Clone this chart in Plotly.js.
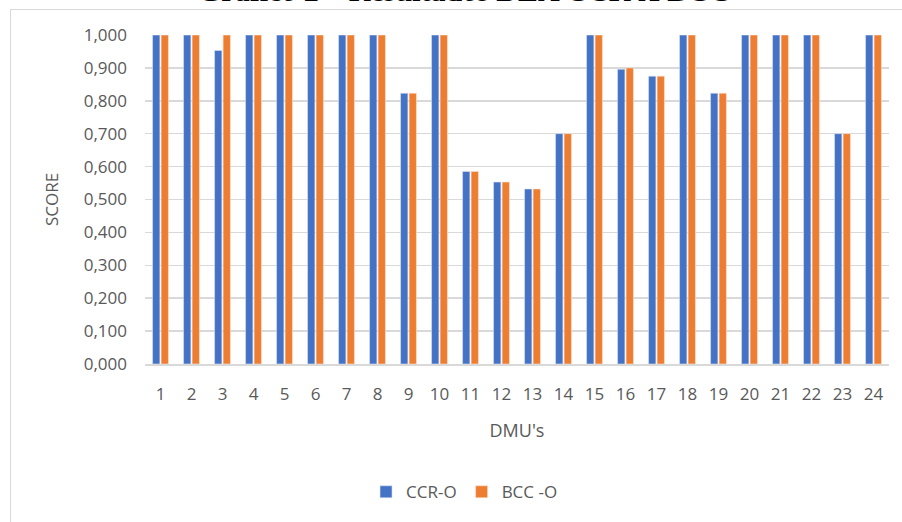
<!DOCTYPE html>
<html>
<head>
<meta charset="utf-8">
<script src="https://cdn.plot.ly/plotly-3.0.1.min.js"></script>
<style>
  html, body { margin: 0; padding: 0; background: #ffffff; }
  #wrap { position: relative; width: 902px; height: 522px; overflow: hidden; }
  #chart { position: absolute; left: 0; top: 0; width: 902px; height: 522px; }
  #frame { position: absolute; left: 10px; top: 9px; width: 920px; height: 540px;
           border: 1.5px solid #d9d9d9; pointer-events: none; }
</style>
</head>
<body>
<div id="wrap">
  <div id="chart"></div>
  <div id="frame"></div>
</div>
<script>
const dmus = ["1","2","3","4","5","6","7","8","9","10","11","12","13","14","15","16","17","18","19","20","21","22","23","24"];
const ccrO = [1.000,1.000,0.953,1.000,1.000,1.000,1.000,1.000,0.823,1.000,0.585,0.553,0.532,0.700,1.000,0.896,0.875,1.000,0.823,1.000,1.000,1.000,0.700,1.000];
const bccO = [1.000,1.000,1.000,1.000,1.000,1.000,1.000,1.000,0.823,1.000,0.585,0.553,0.532,0.700,1.000,0.900,0.875,1.000,0.823,1.000,1.000,1.000,0.700,1.000];
const seriesNames = ["CCR-O", "BCC -O"];
const yTicks = [0,0.1,0.2,0.3,0.4,0.5,0.6,0.7,0.8,0.9,1.0];
const chartTitle = "Gráfico 2 – Resultados DEA CCR X BCC";

const gray = "#595959";
const font = "Open Sans, Calibri, Carlito, sans-serif";

const traces = [
  { type: "bar", name: seriesNames[0], x: dmus, y: ccrO,
    marker: { color: "#4472c4", line: { width: 0.6, color: "#dbe3f3" } } },
  { type: "bar", name: seriesNames[1], x: dmus, y: bccO,
    marker: { color: "#ed7d31", line: { width: 0.6, color: "#fbe2d4" } } }
];

const layout = {
  width: 902, height: 522,
  margin: { l: 145, r: 13, t: 35, b: 158 },
  paper_bgcolor: "#ffffff", plot_bgcolor: "#ffffff",
  separators: ",.",
  barmode: "group", bargap: 0.45, bargroupgap: 0.14,
  annotations: [{
    text: "<b>" + chartTitle + "</b>", showarrow: false,
    font: { family: "Liberation Serif, Times New Roman, serif", size: 30, color: "#000000" },
    xref: "paper", x: 0.43, xanchor: "center",
    yref: "paper", y: 1.079, yanchor: "bottom"
  }],
  xaxis: {
    type: "category", showgrid: false, showline: true, linecolor: "#d9d9d9", linewidth: 1.5,
    ticks: "", tickfont: { family: font, size: 17, color: gray },
    ticklabelstandoff: 14,
    title: { text: "DMU's", font: { family: font, size: 18, color: gray }, standoff: 20 }
  },
  yaxis: {
    range: [0, 1.0], tickvals: yTicks, tickformat: ".3f",
    showgrid: true, gridcolor: "#d9d9d9", gridwidth: 1.5, zeroline: false,
    showline: false, ticks: "", tickfont: { family: font, size: 17, color: gray },
    ticklabelstandoff: 17,
    title: { text: "SCORE", font: { family: font, size: 17, color: gray }, standoff: 20 }
  },
  showlegend: true,
  legend: { orientation: "h", x: 0.515, xanchor: "center", xref: "container",
            y: 0.057, yanchor: "middle", yref: "container",
            font: { family: font, size: 17, color: gray }, traceorder: "normal",
            itemwidth: 30, bgcolor: "rgba(0,0,0,0)" }
};

Plotly.newPlot("chart", traces, layout, { displayModeBar: false, staticPlot: true });
</script>
</body>
</html>
